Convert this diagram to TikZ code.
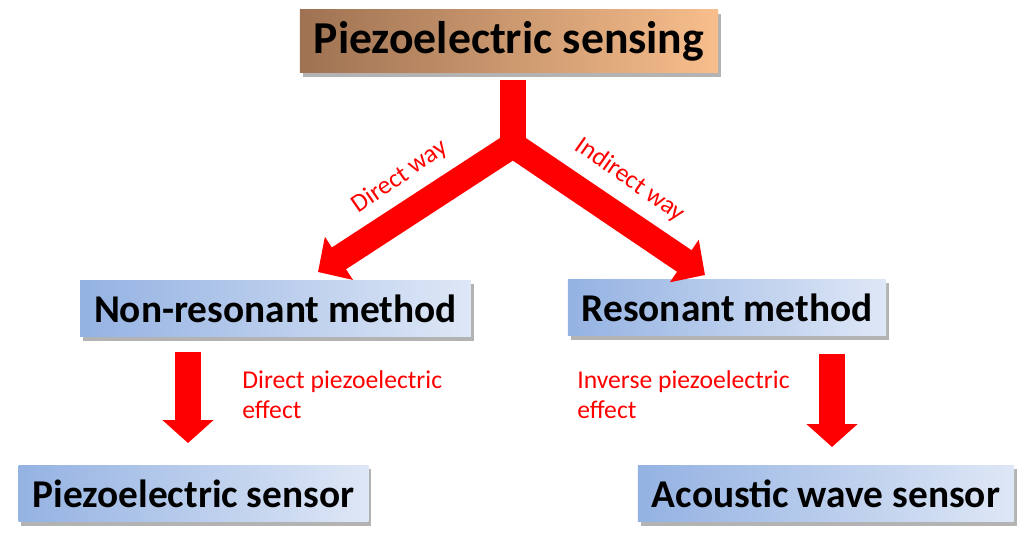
\documentclass[tikz,border=0pt]{standalone}
\usepackage{fontspec}
\setmainfont{Carlito}
\usepackage{xcolor}
\usepackage{tikz}
\usetikzlibrary{arrows.meta,shadows}
\definecolor{brownA}{RGB}{158,114,82}
\definecolor{brownB}{RGB}{248,190,140}
\definecolor{blueA}{RGB}{148,178,226}
\definecolor{blueB}{RGB}{222,231,246}
\tikzset{top box/.style={left color=brownA,right color=brownB,font=\fontsize{26}{30}\selectfont\bfseries,inner xsep=7.9pt,minimum height=1.26cm,drop shadow={shadow xshift=1.6pt,shadow yshift=-2pt,fill=black!50,opacity=0.6}},
  method box/.style={left color=blueA,right color=blueB,font=\fontsize{22.4}{26}\selectfont\bfseries,inner xsep=7.9pt,minimum height=1.14cm,drop shadow={shadow xshift=1.6pt,shadow yshift=-2pt,fill=black!50,opacity=0.6}},
  fat line/.style={red,line width=0.52cm},
  fat arrow/.style={fat line,-{Triangle[length=0.5cm,width=1cm]}},
  way label/.style={red,font=\fontsize{14.6}{17}\selectfont}}

\begin{document}
\begin{tikzpicture}[x=0.02cm,y=0.02cm]
			\useasboundingbox (0,0) rectangle (1024,-536);
			% boxes
			\node[top box] (sensing) at (509,-41.5) {Piezoelectric sensing};
			\node[method box] (nonres) at (275.5,-308.5) {Non-resonant method};
			\node[method box] (res) at (727,-307.5) {Resonant method};
			\node[method box] (piezo) at (193.5,-493.5) {Piezoelectric sensor};
			\node[method box] (acoustic) at (826,-493.5) {Acoustic wave sensor};
			% fork
			\coordinate (stem) at (513,-80);
			\coordinate (fork) at (513,-145);
			\coordinate (tipL) at (318,-272);
			\coordinate (tipR) at (705,-275);
			\draw[fat line] (stem) -- (fork);
			\draw[fat arrow] (fork) -- (tipL);
			\draw[fat arrow] (fork) -- (tipR);
			\node[way label,rotate=34.7] (direct) at (400,-177) {Direct way};
			\node[way label,rotate=-35] (indirect) at (630,-180) {Indirect way};
			% down arrows
			\coordinate (downL) at (188,-352);
			\coordinate (endL) at (188,-443);
			\coordinate (downR) at (832,-354);
			\coordinate (endR) at (832,-447);
			\draw[fat arrow,-{Triangle[length=0.46cm,width=1cm]}] (downL) -- (endL);
			\draw[fat arrow,-{Triangle[length=0.46cm,width=1cm]}] (downR) -- (endR);
			\node[way label,anchor=west,align=left,inner sep=0pt] (dpe) at (242,-395) {Direct piezoelectric\\effect};
			\node[way label,anchor=west,align=left,inner sep=0pt] (ipe) at (577,-395) {Inverse piezoelectric\\effect};
		\end{tikzpicture}
\end{document}
